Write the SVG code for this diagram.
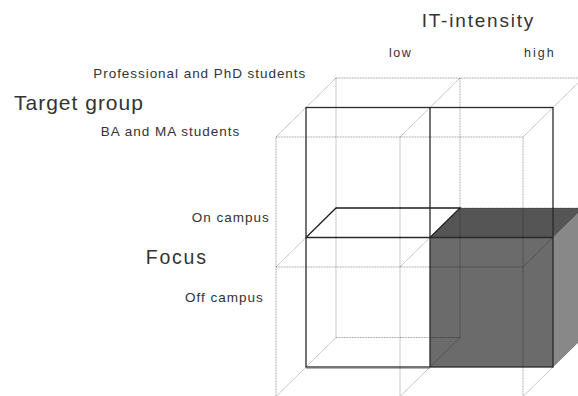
<svg xmlns="http://www.w3.org/2000/svg" width="578" height="396" viewBox="0 0 578 396">
<style>
.lat{stroke:#000;stroke-opacity:0.45;stroke-width:0.8;fill:none;stroke-dasharray:1 0.6}
.dk{stroke:#2a2a2a;stroke-width:1.3;fill:none}
.t{font-family:"Liberation Sans",Arial,sans-serif;fill:#333}
</style>
<rect width="578" height="396" fill="#fff"/>
<g id="shaded-box">
<polygon points="430,237.5 553,237.5 583,208 460,208" fill="#555"/>
<polygon points="430,237.5 553,237.5 553,367 430,367" fill="#6b6b6b"/>
<polygon points="553,237.5 583,208 583,337.5 553,367" fill="#888"/>
</g>
<g id="mid-plane">
<rect x="306" y="107.5" width="247" height="259.5" class="dk"/>
<line x1="430" y1="107.5" x2="430" y2="367" class="dk"/>
<line x1="306" y1="237.5" x2="553" y2="237.5" class="dk"/>
<line x1="306" y1="368.2" x2="430" y2="368.2" stroke="#777" stroke-width="0.8"/>
</g>
<g id="low-slab">
<polyline points="306,237.5 336,208 460,208 430,237.5" class="dk"/>
</g>
<g id="lattice">
<rect x="276" y="137" width="247" height="259.5" class="lat"/>
<line x1="400" y1="137" x2="400" y2="396.5" class="lat"/>
<line x1="276" y1="267" x2="523" y2="267" class="lat"/>
<line x1="336" y1="78" x2="336" y2="337.5" class="lat"/>
<line x1="336" y1="78" x2="583" y2="78" class="lat"/>
<line x1="336" y1="337.5" x2="460" y2="337.5" class="lat"/>
<line x1="460" y1="78" x2="460" y2="337.5" class="lat"/>
<line x1="336" y1="208" x2="583" y2="208" class="lat"/>
<line x1="276" y1="137" x2="336" y2="78" class="lat"/>
<line x1="400" y1="137" x2="460" y2="78" class="lat"/>
<line x1="523" y1="137" x2="583" y2="78" class="lat"/>
<line x1="276" y1="267" x2="336" y2="208" class="lat"/>
<line x1="400" y1="267" x2="460" y2="208" class="lat"/>
<line x1="523" y1="267" x2="583" y2="208" class="lat"/>
<line x1="276" y1="396.5" x2="336" y2="337.5" class="lat"/>
<line x1="400" y1="396.5" x2="460" y2="337.5" class="lat"/>
<line x1="523" y1="396.5" x2="583" y2="337.5" class="lat"/>
</g>
<g id="labels">
<text class="t" x="421.7" y="27" font-size="19" letter-spacing="1.8">IT-intensity</text>
<text class="t" x="389" y="57" font-size="12.5" letter-spacing="1.5">low</text>
<text class="t" x="524" y="57" font-size="12.5" letter-spacing="2">high</text>
<text class="t" x="93.3" y="78.3" font-size="13.5" letter-spacing="0.95">Professional and PhD students</text>
<text class="t" x="14" y="110" font-size="21" letter-spacing="1">Target group</text>
<text class="t" x="100.7" y="136" font-size="13.5" letter-spacing="1">BA and MA students</text>
<text class="t" x="191.7" y="222.3" font-size="13.5" letter-spacing="1">On campus</text>
<text class="t" x="145.7" y="264" font-size="19.5" letter-spacing="1.8">Focus</text>
<text class="t" x="185" y="302" font-size="13.5" letter-spacing="1">Off campus</text>
</g>
</svg>
